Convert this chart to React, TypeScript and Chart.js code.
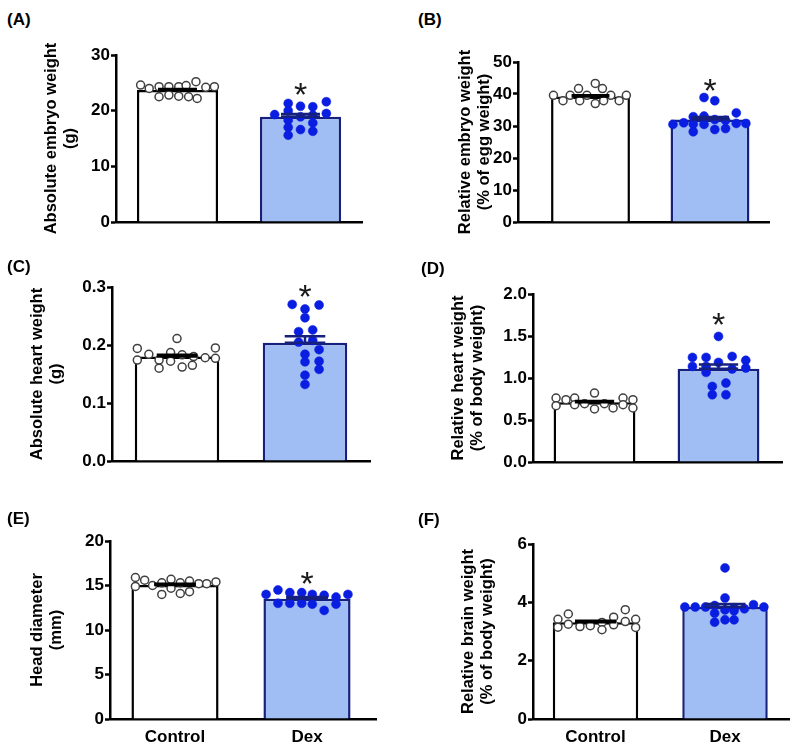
import React, { useEffect, useRef } from 'react';
import { Chart, registerables } from 'chart.js';

Chart.register(...registerables);

const groups = ['Control', 'Dex'];

// (A) Absolute embryo weight (g)
const aCtrl = [24.6, 24.0, 24.3, 24.3, 24.3, 24.5, 25.2, 24.2, 24.3, 22.5, 22.8, 22.6, 22.5, 22.2];
const aCtrlJit = [-0.30, -0.23, -0.15, -0.07, 0.01, 0.07, 0.15, 0.23, 0.30, -0.15, -0.07, 0.01, 0.09, 0.16];
const aDex = [19.3, 21.3, 20.0, 18.3, 17.0, 15.6, 20.8, 18.9, 16.6, 20.7, 19.2, 17.8, 16.3, 21.6, 19.5];
const aDexJit = [-0.21, -0.10, -0.10, -0.10, -0.10, -0.10, 0, 0, 0, 0.10, 0.10, 0.10, 0.10, 0.21, 0.21];
const aMean = [23.7, 18.9];
const aSem = [0.2, 0.5];

// (B) Relative embryo weight (% of egg weight)
const bCtrl = [39.6, 37.9, 39.6, 41.7, 37.9, 39.6, 43.3, 37.0, 41.7, 37.9, 39.6, 37.9, 39.6];
const bCtrlJit = [-0.31, -0.23, -0.17, -0.10, -0.09, -0.03, 0.04, 0.04, 0.10, 0.11, 0.17, 0.24, 0.30];
const bDex = [30.5, 31.0, 32.9, 30.6, 28.2, 38.9, 33.1, 30.5, 37.9, 32.0, 28.9, 31.8, 29.2, 34.1, 30.8, 30.8];
const bDexJit = [-0.31, -0.22, -0.14, -0.14, -0.14, -0.05, -0.05, -0.05, 0.04, 0.04, 0.04, 0.13, 0.13, 0.22, 0.22, 0.30];
const bMean = [39.2, 32.0];
const bSem = [0.4, 0.8];

// (C) Absolute heart weight (g)
const cCtrl = [0.194, 0.174, 0.184, 0.174, 0.160, 0.187, 0.172, 0.211, 0.162, 0.183, 0.165, 0.180, 0.178, 0.195, 0.177];
const cCtrlJit = [-0.31, -0.31, -0.22, -0.14, -0.14, -0.05, -0.05, 0.0, 0.04, 0.04, 0.12, 0.13, 0.22, 0.30, 0.30];
const cDex = [0.270, 0.262, 0.269, 0.247, 0.223, 0.226, 0.205, 0.208, 0.184, 0.192, 0.171, 0.172, 0.158, 0.148, 0.132];
const cDexJit = [-0.10, 0.0, 0.11, 0.0, -0.05, 0.06, -0.05, 0.06, 0.0, 0.11, 0.0, 0.11, 0.11, 0.0, 0.0];
const cMean = [0.180, 0.204];
const cSem = [0.003, 0.011];

// (D) Relative heart weight (% of body weight)
const dCtrl = [0.762, 0.671, 0.742, 0.762, 0.683, 0.694, 0.821, 0.631, 0.694, 0.643, 0.762, 0.683, 0.742, 0.643];
const dCtrlJit = [-0.31, -0.31, -0.23, -0.16, -0.16, -0.08, 0.0, 0.0, 0.08, 0.15, 0.23, 0.23, 0.31, 0.31];
const dDex = [1.495, 1.245, 1.245, 1.186, 1.257, 1.21, 1.138, 1.138, 1.067, 1.107, 1.119, 0.900, 0.940, 0.801, 0.801];
const dDexJit = [0.0, -0.21, -0.10, 0.0, 0.11, 0.22, -0.21, -0.10, -0.10, 0.11, 0.22, -0.05, 0.06, -0.05, 0.06];
const dMean = [0.71, 1.11];
const dSem = [0.015, 0.05];

// (E) Head diameter (mm)
const eCtrl = [15.9, 14.9, 15.6, 15.0, 15.3, 14.0, 15.7, 14.7, 15.3, 14.1, 15.5, 14.3, 15.2, 15.2, 15.4];
const eCtrlJit = [-0.30, -0.30, -0.23, -0.17, -0.10, -0.10, -0.03, -0.03, 0.04, 0.04, 0.11, 0.11, 0.18, 0.24, 0.31];
const eDex = [14.0, 14.5, 13.0, 14.2, 13.0, 14.2, 13.0, 14.0, 12.9, 13.9, 12.2, 13.7, 12.9, 14.0];
const eDexJit = [-0.31, -0.22, -0.22, -0.13, -0.13, -0.04, -0.04, 0.04, 0.04, 0.13, 0.13, 0.22, 0.22, 0.31];
const eMean = [15.05, 13.5];
const eSem = [0.15, 0.2];

// (F) Relative brain weight (% of body weight)
const fCtrl = [3.42, 3.15, 3.60, 3.25, 3.17, 3.20, 3.31, 3.06, 3.49, 3.23, 3.75, 3.34, 3.42, 3.14];
const fCtrlJit = [-0.29, -0.29, -0.21, -0.21, -0.12, -0.04, 0.05, 0.05, 0.14, 0.14, 0.23, 0.23, 0.31, 0.31];
const fDex = [5.18, 3.84, 3.84, 3.84, 3.89, 4.15, 3.80, 3.78, 3.92, 3.84, 3.63, 3.74, 3.71, 3.32, 3.40, 3.40];
const fDexJit = [0.0, -0.31, -0.23, -0.15, -0.08, 0.0, 0.07, 0.15, 0.22, 0.30, -0.08, 0.0, 0.07, -0.08, 0.0, 0.07];
const fMean = [3.32, 3.84];
const fSem = [0.05, 0.1];

// significance asterisk level (value on y axis), null = none
const starLevels = [24.3, 43.8, 0.297, 1.73, 16.2, null];

const yMaxes = [30, 50, 0.3, 2.0, 20, 6];
const ySteps = [10, 10, 0.1, 0.5, 5, 2];
const yDecimals = [0, 0, 1, 1, 0, 0];
const panelLetters = ['(A)', '(B)', '(C)', '(D)', '(E)', '(F)'];
const yTitles = [
  ['Absolute embryo weight', '(g)'],
  ['Relative embryo weight', '(% of egg weight)'],
  ['Absolute heart weight', '(g)'],
  ['Relative heart weight', '(% of body weight)'],
  ['Head diameter', '(mm)'],
  ['Relative brain weight', '(% of body weight)'],
];

const FONT = '"Liberation Sans", Arial, Helvetica, sans-serif';
const DEX_FILL = '#a0bdf4';
const DEX_EDGE = '#16207e';
const DEX_DOT = '#0a1ee2';
const CTRL_DOT_EDGE = '#404040';

type Layout = {
  left: number; top: number; w: number; h: number;
  axisX: number; xEnd: number; yTop: number; yBot: number;
  c0: number; c1: number; titlePad: number; showX: boolean;
  letterX: number; letterY: number;
};

const layouts: Layout[] = [
  { left: 0, top: 35, w: 400, h: 215, axisX: 116, xEnd: 362, yTop: 55, yBot: 222, c0: 177.5, c1: 300.5, titlePad: 42, showX: false, letterX: 7, letterY: 10 },
  { left: 400, top: 35, w: 400, h: 215, axisX: 518, xEnd: 769, yTop: 62, yBot: 222, c0: 590.5, c1: 710, titlePad: 56, showX: false, letterX: 418, letterY: 10 },
  { left: 0, top: 270, w: 400, h: 220, axisX: 112, xEnd: 370, yTop: 287, yBot: 461, c0: 177, c1: 305, titlePad: 28, showX: false, letterX: 7, letterY: 257 },
  { left: 400, top: 270, w: 400, h: 220, axisX: 533, xEnd: 782, yTop: 294, yBot: 462, c0: 594.5, c1: 718.5, titlePad: 49, showX: false, letterX: 421, letterY: 259 },
  { left: 0, top: 525, w: 400, h: 228, axisX: 110, xEnd: 376, yTop: 541, yBot: 719, c0: 175, c1: 307, titlePad: 28, showX: true, letterX: 7, letterY: 509 },
  { left: 400, top: 525, w: 400, h: 228, axisX: 533, xEnd: 789, yTop: 544, yBot: 719, c0: 595.5, c1: 725, titlePad: 59, showX: true, letterX: 418, letterY: 510 },
];

const panelData = [
  { ctrl: aCtrl, ctrlJit: aCtrlJit, dex: aDex, dexJit: aDexJit, mean: aMean, sem: aSem },
  { ctrl: bCtrl, ctrlJit: bCtrlJit, dex: bDex, dexJit: bDexJit, mean: bMean, sem: bSem },
  { ctrl: cCtrl, ctrlJit: cCtrlJit, dex: cDex, dexJit: cDexJit, mean: cMean, sem: cSem },
  { ctrl: dCtrl, ctrlJit: dCtrlJit, dex: dDex, dexJit: dDexJit, mean: dMean, sem: dSem },
  { ctrl: eCtrl, ctrlJit: eCtrlJit, dex: eDex, dexJit: eDexJit, mean: eMean, sem: eSem },
  { ctrl: fCtrl, ctrlJit: fCtrlJit, dex: fDex, dexJit: fDexJit, mean: fMean, sem: fSem },
];

function makeConfig(i: number): any {
  const L = layouts[i];
  const d = panelData[i];
  const unit = L.c1 - L.c0;
  const xMin = (L.axisX - L.c0) / unit;
  const xMax = 1 + (L.xEnd - L.c1) / unit;
  const xH = L.showX ? 30 : 0;
  const star = starLevels[i];

  const markers = {
    id: 'markers' + i,
    afterDatasetsDraw(chart: any) {
      const { ctx } = chart;
      const xs = chart.scales.x;
      const ys = chart.scales.y;
      const barMeta = chart.getDatasetMeta(2);
      ctx.save();
      ctx.lineCap = 'butt';
      d.mean.forEach((m: number, g: number) => {
        const bar = barMeta.data[g];
        const half = bar.width * 0.24;
        const px = xs.getPixelForValue(g);
        const p0 = ys.getPixelForValue(m);
        const p1 = ys.getPixelForValue(m + d.sem[g]);
        ctx.strokeStyle = g === 0 ? '#000000' : DEX_EDGE;
        ctx.lineWidth = 2.5;
        ctx.beginPath();
        ctx.moveTo(px, p0);
        ctx.lineTo(px, p1);
        ctx.moveTo(px - half, p1);
        ctx.lineTo(px + half, p1);
        ctx.moveTo(px - half, p0);
        ctx.lineTo(px + half, p0);
        ctx.stroke();
      });
      if (star !== null) {
        const size = 34;
        ctx.font = `${size}px ${FONT}`;
        ctx.fillStyle = '#1a1a1a';
        ctx.textAlign = 'center';
        ctx.textBaseline = 'alphabetic';
        ctx.fillText('*', xs.getPixelForValue(1), ys.getPixelForValue(star) + size * 0.58);
      }
      ctx.restore();
    },
  };

  return {
    type: 'bar',
    data: {
      datasets: [
        {
          type: 'scatter',
          data: d.ctrl.map((v, k) => ({ x: 0 + d.ctrlJit[k], y: v })),
          pointRadius: 4,
          pointBackgroundColor: '#ffffff',
          pointBorderColor: CTRL_DOT_EDGE,
          pointBorderWidth: 1.5,
          order: 1,
        },
        {
          type: 'scatter',
          data: d.dex.map((v, k) => ({ x: 1 + d.dexJit[k], y: v })),
          pointRadius: 4.5,
          pointBackgroundColor: DEX_DOT,
          pointBorderColor: DEX_DOT,
          pointBorderWidth: 0.5,
          order: 1,
        },
        {
          type: 'bar',
          data: [{ x: 0, y: d.mean[0] }, { x: 1, y: d.mean[1] }],
          backgroundColor: ['#ffffff', DEX_FILL],
          borderColor: ['#000000', DEX_EDGE],
          borderWidth: 2.5,
          categoryPercentage: 0.66,
          barPercentage: 1,
          order: 2,
        },
      ],
    },
    options: {
      responsive: false,
      animation: false,
      devicePixelRatio: 1,
      layout: {
        padding: {
          left: 0,
          right: L.left + L.w - L.xEnd,
          top: L.yTop - L.top,
          bottom: L.top + L.h - L.yBot - xH,
        },
      },
      plugins: { legend: { display: false }, tooltip: { enabled: false } },
      scales: {
        x: {
          type: 'linear',
          min: xMin,
          max: xMax,
          offset: false,
          afterBuildTicks: (s: any) => { s.ticks = [{ value: 0 }, { value: 1 }]; },
          afterFit: (s: any) => { s.height = xH; },
          ticks: {
            display: L.showX,
            callback: (_v: any, idx: number) => groups[idx],
            color: '#000000',
            font: { family: FONT, size: 17, weight: 'bold' },
            padding: 8,
            maxRotation: 0,
            autoSkip: false,
          },
          grid: { display: false, drawTicks: false, offset: false },
          border: { display: true, color: '#000000', width: 2.5 },
        },
        y: {
          min: 0,
          max: yMaxes[i],
          afterFit: (s: any) => { s.width = L.axisX - L.left; },
          ticks: {
            stepSize: ySteps[i],
            color: '#000000',
            font: { family: FONT, size: 17, weight: 'bold' },
            padding: 1,
            callback: (v: any) => Number(v).toFixed(yDecimals[i]),
          },
          grid: { drawOnChartArea: false, drawTicks: true, tickLength: 5, tickWidth: 2.5, color: '#000000' },
          border: { display: true, color: '#000000', width: 2.5 },
          title: {
            display: true,
            text: yTitles[i],
            color: '#000000',
            font: { family: FONT, size: 16.5, weight: 'bold', lineHeight: 1.15 },
            padding: { top: L.titlePad, bottom: 0 },
          },
        },
      },
    },
    plugins: [markers],
  };
}

function Panel({ index }: { index: number }) {
  const ref = useRef<HTMLCanvasElement | null>(null);
  const L = layouts[index];
  useEffect(() => {
    const chart = new Chart(ref.current as HTMLCanvasElement, makeConfig(index));
    return () => chart.destroy();
  }, [index]);
  return (
    <>
      <canvas
        ref={ref}
        width={L.w}
        height={L.h}
        style={{ position: 'absolute', left: L.left, top: L.top, width: L.w, height: L.h }}
      />
      <div
        style={{
          position: 'absolute', left: L.letterX, top: L.letterY,
          font: `bold 17px ${FONT}`, lineHeight: '19px', color: '#000', whiteSpace: 'nowrap',
        }}
      >
        {panelLetters[index]}
      </div>
    </>
  );
}

export default function App() {
  return (
    <div style={{ position: 'absolute', left: 0, top: 0, width: 800, height: 753, background: '#ffffff', overflow: 'hidden' }}>
      {layouts.map((_, i) => <Panel key={i} index={i} />)}
    </div>
  );
}
